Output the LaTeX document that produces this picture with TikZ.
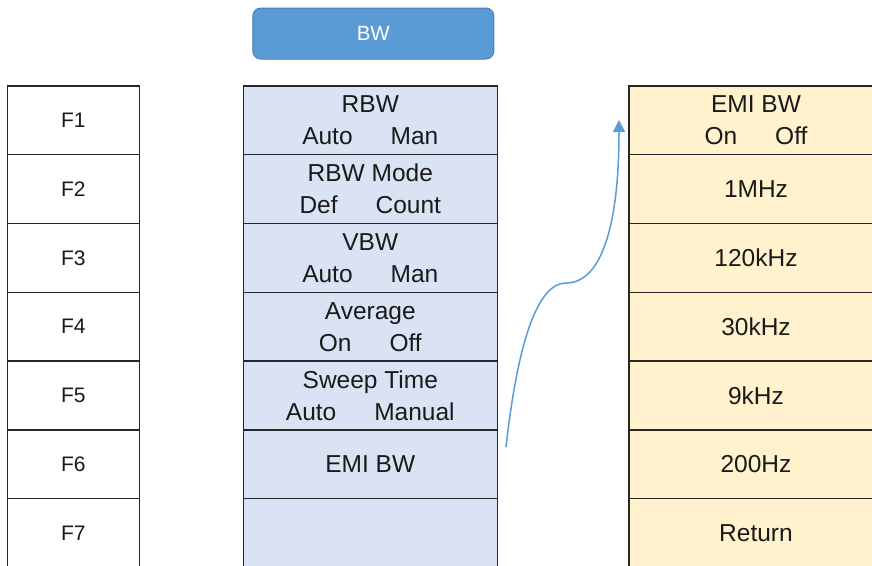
\documentclass[tikz,border=0pt]{standalone}
\usepackage{fontspec}
\setmainfont{Liberation Sans}
\usetikzlibrary{arrows.meta}
\definecolor{midfill}{HTML}{DAE3F3}
\definecolor{rightfill}{HTML}{FFF2CC}
\definecolor{btnfill}{HTML}{5B9BD5}
\definecolor{btnline}{HTML}{4A7EBB}
\definecolor{arrowc}{HTML}{5B9BD5}
\definecolor{lineC}{HTML}{262626}
\definecolor{txtC}{HTML}{1A1A1A}
\tikzset{
  cell/.style={draw=lineC, line width=1.3pt, inner sep=0pt, minimum height=68.8pt, text=txtC, align=center},
  fcell/.style={cell, fill=white, minimum width=132pt, font=\fontsize{21}{25}\selectfont},
  mcell/.style={cell, fill=midfill, minimum width=254pt, font=\fontsize{24.5}{32}\selectfont},
  rcell/.style={cell, fill=rightfill, minimum width=254pt, font=\fontsize{24.5}{32}\selectfont},
  btn/.style={draw=btnline, fill=btnfill, line width=1pt, rounded corners=8pt, minimum width=241pt, minimum height=51pt, inner sep=0pt, text=white, font=\fontsize{20.5}{24}\selectfont},
  flow/.style={draw=arrowc, line width=1.5pt, -{Triangle[length=12pt,width=12pt]}}
}
\newcommand{\gp}{\hspace{38pt}}
\begin{document}
\begin{tikzpicture}[x=1pt,y=-1pt]
\useasboundingbox (0,0) rectangle (872,565);
\node[btn] (bw) at (373.3,33.5) {BW};
% left column
\node[fcell] (f1) at (73.3,120.4) {F1};
\node[fcell] (f2) at (73.3,189.2) {F2};
\node[fcell] (f3) at (73.3,258.0) {F3};
\node[fcell] (f4) at (73.3,326.7) {F4};
\node[fcell] (f5) at (73.3,395.5) {F5};
\node[fcell] (f6) at (73.3,464.3) {F6};
\node[fcell] (f7) at (73.3,533.0) {F7};
% middle column
\node[mcell] (m1) at (370.3,120.4) {RBW\\Auto\gp Man};
\node[mcell] (m2) at (370.3,189.2) {RBW Mode\\Def\gp Count};
\node[mcell] (m3) at (370.3,258.0) {VBW\\Auto\gp Man};
\node[mcell] (m4) at (370.3,326.7) {Average\\On\gp Off};
\node[mcell] (m5) at (370.3,395.5) {Sweep Time\\Auto\gp Manual};
\node[mcell] (m6) at (370.3,464.3) {EMI BW};
\node[mcell] (m7) at (370.3,533.0) {};
% right column
\node[rcell] (r1) at (756,120.4) {EMI BW\\On\gp Off};
\node[rcell] (r2) at (756,189.2) {1MHz};
\node[rcell] (r3) at (756,258.0) {120kHz};
\node[rcell] (r4) at (756,326.7) {30kHz};
\node[rcell] (r5) at (756,395.5) {9kHz};
\node[rcell] (r6) at (756,464.3) {200Hz};
\node[rcell] (r7) at (756,533.0) {Return};
% arrow
\coordinate (astart) at (506,447);
\coordinate (amid) at (566,283);
\coordinate (aend) at (619,120);
\draw[flow] (astart) .. controls (518,340) and (538,283) .. (amid) .. controls (600,283) and (619,230) .. (aend);
\end{tikzpicture}
\end{document}
